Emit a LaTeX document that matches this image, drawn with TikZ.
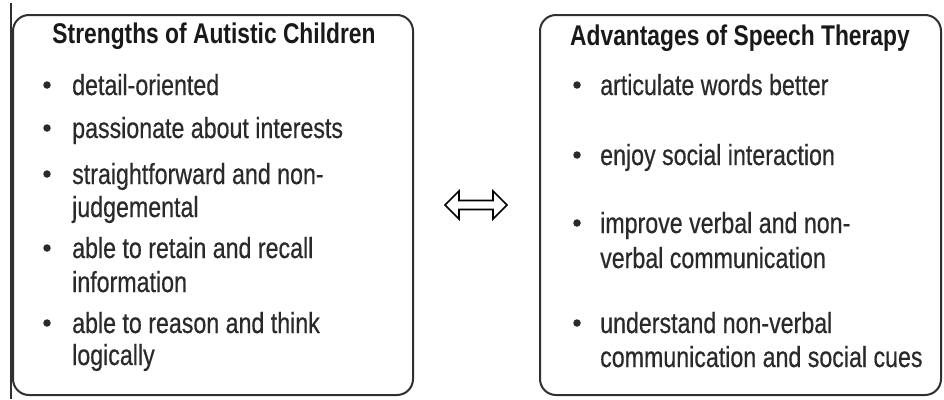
\documentclass[tikz,border=0pt]{standalone}
\usepackage{fontspec}
\setmainfont[FakeStretch=0.8]{Liberation Sans}
\newfontfamily\bodyfont[FakeStretch=0.8,FakeBold=0.5]{Liberation Sans}
\usetikzlibrary{shapes.arrows}
\definecolor{ink}{HTML}{2A2A2A}
\definecolor{frame}{HTML}{303030}
\tikzset{
  panel/.style={draw=frame, line width=2pt, rounded corners=16pt},
  ttl/.style={anchor=base, inner sep=0pt, font=\fontsize{28.5}{33}\selectfont\bfseries, text=black!90},
  itm/.style={anchor=base west, inner sep=0pt, font=\bodyfont\fontsize{29}{33}\selectfont, text=ink},
  dot/.style={circle, fill=ink, inner sep=0pt, minimum size=7.5pt},
}
\begin{document}
\begin{tikzpicture}[x=1pt,y=-1pt]
\useasboundingbox (0,0) rectangle (944,399);
% left scan line
\draw[frame, line width=1.6pt] (11,3) -- (11,399);
% panels
\draw[panel] (13,15) rectangle (413,395);
\draw[panel] (540,15) rectangle (941,395);
% titles
\node[ttl] (t1) at (214,43) {Strengths of Autistic Children};
\node[ttl] (t2) at (740,45) {Advantages of Speech Therapy};
% left items
\node[dot] (b1) at (47,85) {};
\node[itm] (l1) at (72,95) {detail-oriented};
\node[dot] (b2) at (47,128) {};
\node[itm] (l2) at (72,138) {passionate about interests};
\node[dot] (b3) at (47,174) {};
\node[itm] (l3a) at (72,184) {straightforward and non-};
\node[itm] (l3b) at (72,217) {judgemental};
\node[dot] (b4) at (47,248) {};
\node[itm] (l4a) at (72,258) {able to retain and recall};
\node[itm] (l4b) at (72,292) {information};
\node[dot] (b5) at (47,323) {};
\node[itm] (l5a) at (72,333) {able to reason and think};
\node[itm] (l5b) at (72,365) {logically};
% right items
\node[dot] (r1d) at (577,85) {};
\node[itm] (r1) at (600,95) {articulate words better};
\node[dot] (r2d) at (577,155) {};
\node[itm] (r2) at (600,165) {enjoy social interaction};
\node[dot] (r3d) at (577,223) {};
\node[itm] (r3a) at (600,233) {improve verbal and non-};
\node[itm] (r3b) at (600,268) {verbal communication};
\node[dot] (r4d) at (577,323) {};
\node[itm] (r4a) at (600,333) {understand non-verbal};
\node[itm] (r4b) at (600,367) {communication and social cues};
% double arrow
\node[double arrow, draw=black, fill=white, line width=1.6pt,
      minimum height=62pt, minimum width=28pt, inner sep=2.5pt,
      double arrow head extend=7pt] (arr) at (476,205) {};
\end{tikzpicture}
\end{document}
